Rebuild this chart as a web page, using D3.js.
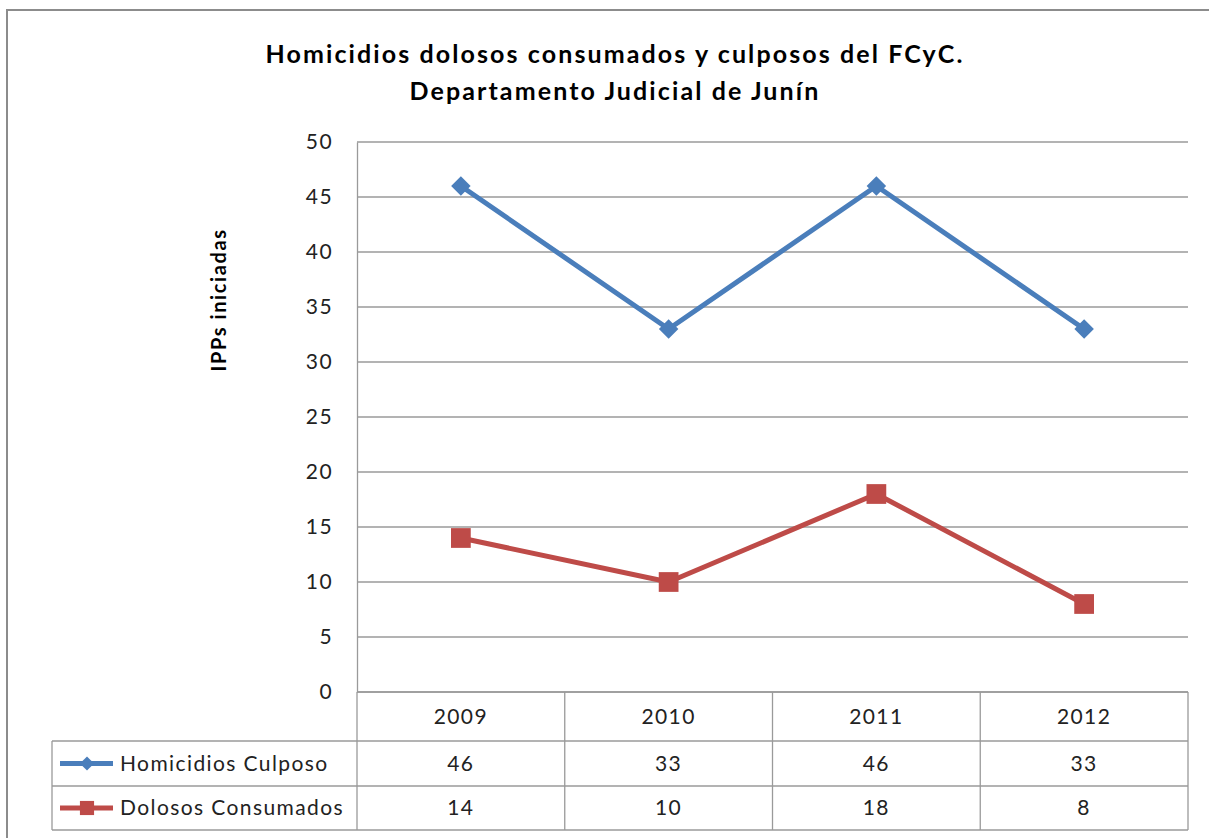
<!DOCTYPE html>
<html>
<head>
<meta charset="utf-8">
<script src="https://cdn.jsdelivr.net/npm/d3@7"></script>
<style>
  body { margin: 0; background: #fff; }
  svg { display: block; font-family: Lato, "Open Sans", sans-serif; }
</style>
</head>
<body>
<div id="chart"></div>
<script>
// data
const years = ["2009", "2010", "2011", "2012"];
const seriesNames = ["Homicidios Culposo", "Dolosos Consumados"];
const culposo = [46, 33, 46, 33];
const dolosos = [14, 10, 18, 8];
const yTicks = [0, 5, 10, 15, 20, 25, 30, 35, 40, 45, 50];
const colors = ["#4a7ebb", "#be4b48"];

const W = 1209, H = 838;
const margin = { top: 142, left: 357, right: 21 };
const plotW = W - margin.left - margin.right;
const plotH = 550;
const txtSize = "21px", txtSpacing = "1.4px";

const svg = d3.select("#chart").append("svg")
  .attr("width", W).attr("height", H);

// outer frame (cut by the window on right and bottom)
svg.append("rect")
  .attr("x", 7).attr("y", 10)
  .attr("width", W + 20).attr("height", H + 20)
  .attr("fill", "none").attr("stroke", "#8c8c8c").attr("stroke-width", 2);

// title
const title = svg.append("text")
  .attr("text-anchor", "middle")
  .style("font-weight", "bold").style("font-size", "25px")
  .style("letter-spacing", "2.1px").style("fill", "#000");
title.append("tspan").attr("x", 615).attr("y", 63)
  .text("Homicidios dolosos consumados y culposos del FCyC.");
title.append("tspan").attr("x", 615).attr("y", 100)
  .text("Departamento Judicial de Junín");

const g = svg.append("g").attr("transform", `translate(${margin.left},${margin.top})`);

const x = d3.scaleBand().domain(years).range([0, plotW]);
const y = d3.scaleLinear().domain([0, 50]).range([plotH, 0]);

// gridlines
g.append("g")
  .selectAll("line")
  .data(yTicks)
  .join("line")
    .attr("x1", 0).attr("x2", plotW)
    .attr("y1", d => y(d)).attr("y2", d => y(d))
    .attr("stroke", "#9a9a9a").attr("stroke-width", 1.3);

// y axis
const yAxis = g.append("g")
  .call(d3.axisLeft(y).tickValues(yTicks).tickSize(0).tickPadding(24));
yAxis.select(".domain").attr("stroke", "#9a9a9a").attr("stroke-width", 1.3);
yAxis.selectAll("text")
  .style("font-size", txtSize).style("letter-spacing", txtSpacing).style("fill", "#222")
  .style("font-family", "Lato, sans-serif");

// y axis title
svg.append("text")
  .attr("transform", "translate(226,300) rotate(-90)")
  .attr("text-anchor", "middle")
  .style("font-weight", "bold").style("font-size", "20px").style("letter-spacing", "1.6px")
  .text("IPPs iniciadas");

// lines
const allSeries = [culposo, dolosos];
const line = d3.line()
  .x((d, i) => x(years[i]) + x.bandwidth() / 2)
  .y(d => y(d));

allSeries.forEach((vals, si) => {
  g.append("path")
    .datum(vals)
    .attr("d", line)
    .attr("fill", "none")
    .attr("stroke", colors[si])
    .attr("stroke-width", 5)
    .attr("stroke-linejoin", "round");
});

const diamond = d3.symbol().type(d3.symbolSquare).size(190);
const square = d3.symbol().type(d3.symbolSquare).size(390);

g.append("g").selectAll("path")
  .data(culposo)
  .join("path")
    .attr("d", diamond)
    .attr("transform", (d, i) => `translate(${x(years[i]) + x.bandwidth() / 2},${y(d)}) rotate(45)`)
    .attr("fill", colors[0]);

g.append("g").selectAll("path")
  .data(dolosos)
  .join("path")
    .attr("d", square)
    .attr("transform", (d, i) => `translate(${x(years[i]) + x.bandwidth() / 2},${y(d)})`)
    .attr("fill", colors[1]);

// data table
const rowTops = [plotH, plotH + 49, plotH + 94, plotH + 138];
const tableLeft = 52 - margin.left;
const tbl = g.append("g");
const gridStroke = "#9a9a9a";

// horizontal lines
tbl.append("line")
  .attr("x1", 0).attr("x2", plotW).attr("y1", rowTops[0]).attr("y2", rowTops[0])
  .attr("stroke", gridStroke).attr("stroke-width", 1.3);
[1, 2, 3].forEach(r => {
  tbl.append("line")
    .attr("x1", tableLeft).attr("x2", plotW)
    .attr("y1", rowTops[r]).attr("y2", rowTops[r])
    .attr("stroke", gridStroke).attr("stroke-width", 1.3);
});
// vertical lines
tbl.append("line")
  .attr("x1", tableLeft).attr("x2", tableLeft)
  .attr("y1", rowTops[1]).attr("y2", rowTops[3])
  .attr("stroke", gridStroke).attr("stroke-width", 1.3);
const colEdges = years.map(yr => x(yr)).concat([plotW]);
tbl.selectAll("line.col")
  .data(colEdges)
  .join("line")
    .attr("class", "col")
    .attr("x1", d => d).attr("x2", d => d)
    .attr("y1", rowTops[0]).attr("y2", rowTops[3])
    .attr("stroke", gridStroke).attr("stroke-width", 1.3);

// header years
tbl.selectAll("text.yr")
  .data(years)
  .join("text")
    .attr("class", "yr")
    .attr("x", d => x(d) + x.bandwidth() / 2)
    .attr("y", (rowTops[0] + rowTops[1]) / 2 + 7)
    .attr("text-anchor", "middle")
    .style("font-size", txtSize).style("letter-spacing", txtSpacing).style("fill", "#222")
    .text(d => d);

// value rows
allSeries.forEach((vals, si) => {
  const cy = (rowTops[si + 1] + rowTops[si + 2]) / 2;
  tbl.append("g").selectAll("text")
    .data(vals)
    .join("text")
      .attr("x", (d, i) => x(years[i]) + x.bandwidth() / 2)
      .attr("y", cy + 7)
      .attr("text-anchor", "middle")
      .style("font-size", txtSize).style("letter-spacing", txtSpacing).style("fill", "#222")
      .text(d => d);

  // legend key
  const kx = tableLeft + 8;
  tbl.append("line")
    .attr("x1", kx).attr("x2", kx + 53)
    .attr("y1", cy).attr("y2", cy)
    .attr("stroke", colors[si]).attr("stroke-width", 5);
  tbl.append("path")
    .attr("d", si === 0 ? d3.symbol().type(d3.symbolSquare).size(100)() : d3.symbol().type(d3.symbolSquare).size(200)())
    .attr("transform", `translate(${kx + 27},${cy})` + (si === 0 ? " rotate(45)" : ""))
    .attr("fill", colors[si]);
  tbl.append("text")
    .attr("x", kx + 60)
    .attr("y", cy + 7)
    .style("font-size", txtSize).style("letter-spacing", txtSpacing).style("fill", "#222")
    .text(seriesNames[si]);
});
</script>
</body>
</html>
